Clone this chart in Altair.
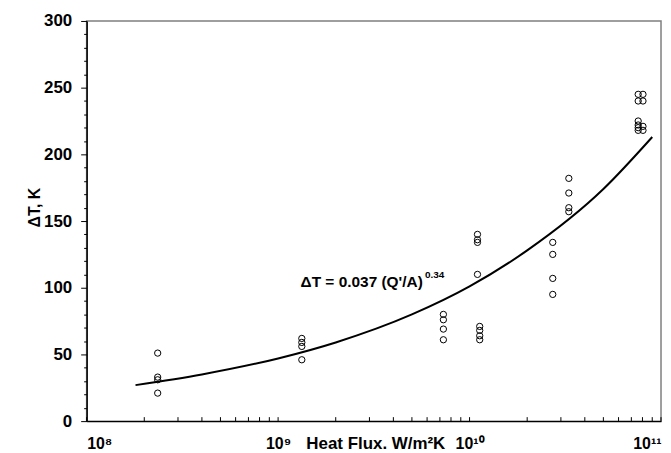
import altair as alt
import pandas as pd

# Measured data points (heat flux Q, W/m2K ; temperature difference dT, K)
pt_q = [2.35e8, 2.35e8, 2.35e8, 2.35e8,
        1.33e9, 1.33e9, 1.33e9, 1.33e9,
        7.3e9, 7.3e9, 7.3e9, 7.3e9,
        1.1e10, 1.1e10, 1.1e10, 1.1e10,
        1.13e10, 1.13e10, 1.13e10, 1.13e10,
        2.72e10, 2.72e10, 2.72e10, 2.72e10,
        3.3e10, 3.3e10, 3.3e10, 3.3e10,
        7.6e10, 7.6e10, 7.6e10, 7.6e10, 7.6e10, 7.6e10,
        8.05e10, 8.05e10, 8.05e10, 8.05e10]
pt_t = [51, 33, 31, 21,
        62, 59, 56, 46,
        80, 76, 69, 61,
        140, 136, 134, 110,
        71, 68, 64, 61,
        134, 125, 107, 95,
        182, 171, 160, 157,
        245, 240, 225, 222, 220, 218,
        245, 240, 221, 218]

# Fitted curve
curve_q = [1.8e8, 4e8, 1e9, 2e9, 5e9, 1e10, 2e10, 5e10, 9e10]
curve_t = [27, 35, 47, 59, 80, 101, 128, 174, 213]

# Axis ticks / labels
x_major = [1e8, 1e9, 1e10, 1e11]
x_major_labels = ["10\u2078", "10\u2079", "10\u00b9\u2070", "10\u00b9\u00b9"]
x_minor = [m * 10 ** e for e in range(8, 11) for m in range(2, 10)]
y_ticks = list(range(0, 301, 10))

# Annotation
ann_main = ["\u0394T = 0.037 (Q'/A)"]
ann_main_q = [5.7e9]
ann_main_t = [100.7]
ann_sup = ["0.34"]
ann_sup_q = [5.85e9]
ann_sup_t = [107.5]

FONT = "Liberation Sans"

label_expr = " : ".join(
    f"datum.value == {v:.0e} ? '{l}'" for v, l in zip(x_major, x_major_labels)
) + " : ''"

xscale = alt.Scale(type="log", domain=[1e8, 1e11], nice=False)
yscale = alt.Scale(domain=[0, 300], nice=False, zero=True)

x_axis = alt.Axis(
    values=x_major, ticks=False, labelExpr=label_expr, grid=False,
    labelFont=FONT, labelFontSize=16, labelFontWeight="bold", labelColor="black",
    labelPadding=28, labelBaseline="alphabetic",
    domainColor="black", domainWidth=1.5,
    title="Heat Flux. W/m\u00b2K", titleFont=FONT, titleFontSize=17,
    titleFontWeight="bold", titleColor="black", titleX=290, titleY=28,
    titleBaseline="alphabetic",
)
y_axis = alt.Axis(
    values=y_ticks, grid=False,
    labelExpr="datum.value % 50 === 0 ? datum.label : ''",
    tickSize={"condition": {"test": "datum.value % 50 === 0", "value": 6}, "value": 3},
    tickColor="black", tickWidth=1,
    labelFont=FONT, labelFontSize=17, labelFontWeight="bold", labelColor="black",
    labelPadding=9, domainColor="black", domainWidth=1.5,
    title="\u0394T, K", titleFont=FONT, titleFontSize=16, titleFontWeight="bold",
    titleColor="black", titleX=-47, titleY=187, titleBaseline="alphabetic",
)


def xenc():
    return alt.X("q:Q", scale=xscale, axis=x_axis)


def yenc():
    return alt.Y("t:Q", scale=yscale, axis=y_axis)


pts = pd.DataFrame({"q": pt_q, "t": pt_t})
curve = pd.DataFrame({"q": curve_q, "t": curve_t})
ticks_df = pd.DataFrame({"q": x_major + x_minor})

line = alt.Chart(curve).mark_line(color="black", strokeWidth=2, interpolate="monotone").encode(
    x=xenc(), y=yenc()
)
points = alt.Chart(pts).mark_point(shape="circle", filled=False, color="black",
                                   size=40, strokeWidth=1, opacity=1).encode(
    x=xenc(), y=yenc()
)
xticks = alt.Chart(ticks_df).mark_rule(color="black", strokeWidth=1).encode(
    x=xenc(), y=alt.value(398), y2=alt.value(402)
)
txt_main = alt.Chart(pd.DataFrame({"q": ann_main_q, "t": ann_main_t, "s": ann_main})).mark_text(
    font=FONT, fontSize=15.5, fontWeight="bold", align="right", baseline="alphabetic", color="black"
).encode(x=xenc(), y=yenc(), text="s:N")
txt_sup = alt.Chart(pd.DataFrame({"q": ann_sup_q, "t": ann_sup_t, "s": ann_sup})).mark_text(
    font=FONT, fontSize=10, fontWeight="bold", align="left", baseline="alphabetic", color="black"
).encode(x=xenc(), y=yenc(), text="s:N")

chart = alt.layer(line, points, xticks, txt_main, txt_sup).properties(
    width=577, height=402,
    padding={"left": 79, "top": 12, "right": 2, "bottom": 31},
    autosize=alt.AutoSizeParams(type="none"),
    background="white",
).configure_view(stroke="#7f7f7f", strokeWidth=1.5)

chart.save("out.html", embed_options={"renderer": "svg", "actions": False})
